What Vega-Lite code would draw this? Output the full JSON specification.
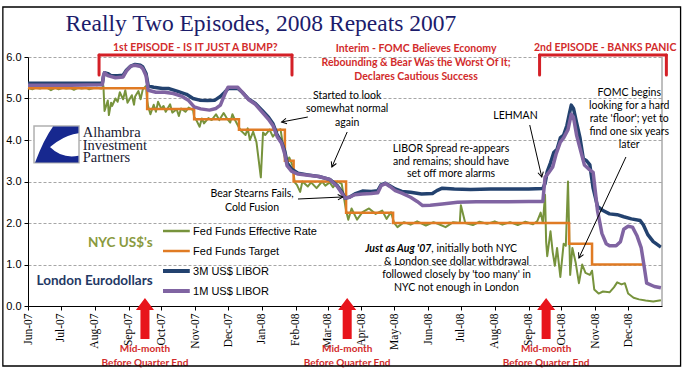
{
"$schema": "https://vega.github.io/schema/vega-lite/v6.json",
"width": 634, "height": 249,
"autosize": {"type": "none"},
"padding": {"left": 28, "top": 57, "right": 28, "bottom": 69},
"background": "white",
"resolve": {"axis": {"x": "independent", "y": "independent"}},
"config": {"view": {"stroke": null}, "font": "Liberation Sans"},
"datasets": {
"eff": [
{"date":"2007-06-01","value":5.25},{"date":"2007-06-05","value":5.22},{"date":"2007-06-08","value":5.26},{"date":"2007-06-12","value":5.24},{"date":"2007-06-15","value":5.27},{"date":"2007-06-19","value":5.25},{"date":"2007-06-22","value":5.2},{"date":"2007-06-26","value":5.26},{"date":"2007-06-29","value":5.22},{"date":"2007-07-03","value":5.26},{"date":"2007-07-06","value":5.24},{"date":"2007-07-10","value":5.25},{"date":"2007-07-13","value":5.21},{"date":"2007-07-17","value":5.26},{"date":"2007-07-20","value":5.24},{"date":"2007-07-24","value":5.26},{"date":"2007-07-27","value":5.22},{"date":"2007-07-31","value":5.25},{"date":"2007-08-03","value":5.26},{"date":"2007-08-07","value":5.24},
{"date":"2007-08-09","value":5.3},{"date":"2007-08-10","value":4.7},{"date":"2007-08-13","value":4.95},{"date":"2007-08-14","value":4.6},{"date":"2007-08-16","value":4.9},{"date":"2007-08-17","value":4.82},{"date":"2007-08-20","value":5.0},{"date":"2007-08-22","value":4.92},{"date":"2007-08-24","value":5.15},{"date":"2007-08-27","value":4.98},{"date":"2007-08-29","value":5.2},{"date":"2007-08-31","value":4.9},{"date":"2007-09-04","value":5.08},{"date":"2007-09-06","value":4.85},{"date":"2007-09-07","value":5.05},{"date":"2007-09-10","value":5.18},{"date":"2007-09-12","value":4.98},{"date":"2007-09-14","value":5.22},{"date":"2007-09-17","value":5.3},
{"date":"2007-09-18","value":4.95},{"date":"2007-09-19","value":4.8},{"date":"2007-09-21","value":4.62},{"date":"2007-09-24","value":4.85},{"date":"2007-09-26","value":4.68},{"date":"2007-09-28","value":4.92},{"date":"2007-10-01","value":4.75},{"date":"2007-10-03","value":4.82},{"date":"2007-10-05","value":4.68},{"date":"2007-10-09","value":4.86},{"date":"2007-10-11","value":4.66},{"date":"2007-10-15","value":4.74},{"date":"2007-10-17","value":4.58},{"date":"2007-10-19","value":4.76},{"date":"2007-10-23","value":4.68},{"date":"2007-10-26","value":4.78},{"date":"2007-10-30","value":4.72},
{"date":"2007-10-31","value":4.55},{"date":"2007-11-02","value":4.48},{"date":"2007-11-05","value":4.32},{"date":"2007-11-07","value":4.52},{"date":"2007-11-09","value":4.4},{"date":"2007-11-13","value":4.53},{"date":"2007-11-16","value":4.48},{"date":"2007-11-20","value":4.62},{"date":"2007-11-23","value":4.48},{"date":"2007-11-27","value":4.65},{"date":"2007-11-30","value":4.52},{"date":"2007-12-03","value":4.42},{"date":"2007-12-05","value":4.62},{"date":"2007-12-07","value":4.5},
{"date":"2007-12-11","value":4.3},{"date":"2007-12-13","value":4.22},{"date":"2007-12-17","value":4.12},{"date":"2007-12-19","value":4.28},{"date":"2007-12-21","value":4.0},{"date":"2007-12-24","value":4.2},{"date":"2007-12-27","value":3.95},{"date":"2007-12-31","value":3.1},{"date":"2008-01-02","value":4.18},{"date":"2008-01-04","value":4.12},{"date":"2008-01-08","value":4.25},{"date":"2008-01-11","value":4.08},{"date":"2008-01-15","value":4.22},{"date":"2008-01-18","value":4.26},
{"date":"2008-01-22","value":3.58},{"date":"2008-01-24","value":3.42},{"date":"2008-01-26","value":3.58},{"date":"2008-01-29","value":3.38},{"date":"2008-01-31","value":2.98},{"date":"2008-02-02","value":2.92},{"date":"2008-02-05","value":2.75},{"date":"2008-02-07","value":3.0},{"date":"2008-02-12","value":2.88},{"date":"2008-02-15","value":2.98},{"date":"2008-02-20","value":2.84},{"date":"2008-02-25","value":3.0},{"date":"2008-02-28","value":2.9},{"date":"2008-03-03","value":2.98},{"date":"2008-03-06","value":2.86},{"date":"2008-03-10","value":3.0},{"date":"2008-03-14","value":2.94},
{"date":"2008-03-18","value":2.3},{"date":"2008-03-20","value":2.08},{"date":"2008-03-23","value":2.35},{"date":"2008-03-28","value":2.08},{"date":"2008-04-02","value":2.26},{"date":"2008-04-08","value":2.35},{"date":"2008-04-14","value":2.22},{"date":"2008-04-20","value":2.3},{"date":"2008-04-24","value":2.1},{"date":"2008-04-28","value":2.26},
{"date":"2008-05-01","value":2.0},{"date":"2008-05-04","value":1.9},{"date":"2008-05-10","value":2.02},{"date":"2008-05-16","value":1.96},{"date":"2008-05-22","value":2.04},{"date":"2008-05-30","value":1.94},{"date":"2008-06-06","value":2.02},{"date":"2008-06-11","value":1.97},{"date":"2008-06-17","value":1.9},{"date":"2008-06-24","value":2.02},{"date":"2008-06-30","value":2.0},{"date":"2008-07-01","value":2.43},{"date":"2008-07-05","value":2.0},{"date":"2008-07-12","value":1.95},{"date":"2008-07-18","value":2.03},{"date":"2008-07-25","value":1.98},{"date":"2008-08-01","value":2.04},{"date":"2008-08-08","value":1.96},{"date":"2008-08-15","value":2.02},{"date":"2008-08-22","value":1.95},{"date":"2008-08-29","value":2.03},{"date":"2008-09-05","value":1.97},{"date":"2008-09-09","value":2.05},
{"date":"2008-09-12","value":2.25},{"date":"2008-09-14","value":2.0},{"date":"2008-09-16","value":2.68},{"date":"2008-09-17","value":1.55},{"date":"2008-09-18","value":1.2},{"date":"2008-09-21","value":1.8},{"date":"2008-09-23","value":1.3},{"date":"2008-09-25","value":0.97},{"date":"2008-09-27","value":1.4},{"date":"2008-09-30","value":0.7},{"date":"2008-10-03","value":1.5},{"date":"2008-10-05","value":1.45},{"date":"2008-10-07","value":3.0},{"date":"2008-10-09","value":0.75},{"date":"2008-10-11","value":1.4},{"date":"2008-10-14","value":1.05},{"date":"2008-10-17","value":0.55},{"date":"2008-10-20","value":1.0},{"date":"2008-10-23","value":0.8},{"date":"2008-10-27","value":0.75},{"date":"2008-10-29","value":0.85},
{"date":"2008-10-31","value":0.4},{"date":"2008-11-04","value":0.3},{"date":"2008-11-08","value":0.35},{"date":"2008-11-14","value":0.33},{"date":"2008-11-18","value":0.45},{"date":"2008-11-21","value":0.57},{"date":"2008-11-25","value":0.52},{"date":"2008-11-28","value":0.55},{"date":"2008-12-01","value":0.3},{"date":"2008-12-06","value":0.2},{"date":"2008-12-11","value":0.16},{"date":"2008-12-17","value":0.13},{"date":"2008-12-24","value":0.11},{"date":"2008-12-31","value":0.14}
],
"tgt": [
{"date":"2007-06-01","value":5.25},{"date":"2007-09-18","value":4.75},{"date":"2007-10-31","value":4.5},{"date":"2007-12-11","value":4.25},{"date":"2008-01-22","value":3.5},{"date":"2008-01-30","value":3.0},{"date":"2008-03-18","value":2.25},{"date":"2008-04-30","value":2.0},{"date":"2008-10-08","value":1.5},{"date":"2008-10-29","value":1.0},{"date":"2008-12-16","value":1.0}
],
"m3": [
{"date":"2007-06-01","value":5.37},{"date":"2007-07-10","value":5.37},{"date":"2007-08-08","value":5.37},{"date":"2007-08-09","value":5.52},{"date":"2007-08-10","value":5.62},{"date":"2007-08-13","value":5.6},{"date":"2007-08-16","value":5.55},{"date":"2007-08-22","value":5.55},{"date":"2007-08-27","value":5.56},{"date":"2007-08-30","value":5.68},{"date":"2007-09-03","value":5.78},{"date":"2007-09-07","value":5.82},{"date":"2007-09-12","value":5.8},{"date":"2007-09-14","value":5.76},{"date":"2007-09-17","value":5.6},{"date":"2007-09-19","value":5.3},{"date":"2007-09-24","value":5.27},{"date":"2007-10-02","value":5.24},{"date":"2007-10-08","value":5.24},{"date":"2007-10-16","value":5.17},{"date":"2007-10-24","value":5.1},{"date":"2007-10-30","value":5.0},{"date":"2007-11-05","value":4.96},{"date":"2007-11-12","value":4.95},{"date":"2007-11-19","value":4.96},{"date":"2007-11-24","value":5.05},{"date":"2007-11-28","value":5.15},{"date":"2007-12-01","value":5.24},{"date":"2007-12-10","value":5.24},{"date":"2007-12-14","value":5.15},{"date":"2007-12-20","value":4.98},{"date":"2007-12-26","value":4.88},
{"date":"2008-01-01","value":4.72},{"date":"2008-01-07","value":4.55},{"date":"2008-01-11","value":4.4},{"date":"2008-01-15","value":4.12},{"date":"2008-01-19","value":3.95},{"date":"2008-01-22","value":3.72},{"date":"2008-01-24","value":3.45},{"date":"2008-01-28","value":3.3},{"date":"2008-02-03","value":3.2},{"date":"2008-02-12","value":3.16},{"date":"2008-02-22","value":3.12},{"date":"2008-03-03","value":3.05},{"date":"2008-03-10","value":2.9},{"date":"2008-03-14","value":2.75},{"date":"2008-03-17","value":2.6},{"date":"2008-03-21","value":2.62},{"date":"2008-03-26","value":2.7},{"date":"2008-04-02","value":2.77},{"date":"2008-04-10","value":2.76},{"date":"2008-04-16","value":2.78},{"date":"2008-04-19","value":2.92},{"date":"2008-04-23","value":2.96},{"date":"2008-04-27","value":2.9},{"date":"2008-05-02","value":2.82},{"date":"2008-05-08","value":2.76},{"date":"2008-05-16","value":2.74},{"date":"2008-05-26","value":2.7},{"date":"2008-06-05","value":2.71},{"date":"2008-06-09","value":2.78},{"date":"2008-06-14","value":2.84},{"date":"2008-06-25","value":2.82},{"date":"2008-07-10","value":2.81},{"date":"2008-07-28","value":2.82},{"date":"2008-08-15","value":2.82},{"date":"2008-09-01","value":2.82},{"date":"2008-09-14","value":2.83},
{"date":"2008-09-16","value":2.95},{"date":"2008-09-18","value":3.24},{"date":"2008-09-21","value":3.45},{"date":"2008-09-24","value":3.7},{"date":"2008-09-27","value":3.78},{"date":"2008-09-30","value":4.05},{"date":"2008-10-03","value":4.12},{"date":"2008-10-06","value":4.35},{"date":"2008-10-08","value":4.6},{"date":"2008-10-10","value":4.84},{"date":"2008-10-12","value":4.76},{"date":"2008-10-15","value":4.4},{"date":"2008-10-18","value":4.05},{"date":"2008-10-21","value":3.55},{"date":"2008-10-24","value":3.5},{"date":"2008-10-27","value":3.4},{"date":"2008-10-30","value":2.84},{"date":"2008-11-03","value":2.4},{"date":"2008-11-08","value":2.3},{"date":"2008-11-14","value":2.22},{"date":"2008-11-21","value":2.2},{"date":"2008-11-27","value":2.15},{"date":"2008-12-04","value":2.1},{"date":"2008-12-12","value":2.06},{"date":"2008-12-15","value":1.95},{"date":"2008-12-19","value":1.72},{"date":"2008-12-24","value":1.55},{"date":"2008-12-31","value":1.42}
],
"m1": [
{"date":"2007-06-01","value":5.32},{"date":"2007-07-10","value":5.32},{"date":"2007-08-08","value":5.33},{"date":"2007-08-09","value":5.55},{"date":"2007-08-10","value":5.62},{"date":"2007-08-13","value":5.55},{"date":"2007-08-20","value":5.5},{"date":"2007-08-27","value":5.52},{"date":"2007-08-30","value":5.66},{"date":"2007-09-03","value":5.78},{"date":"2007-09-07","value":5.8},{"date":"2007-09-12","value":5.77},{"date":"2007-09-14","value":5.72},{"date":"2007-09-17","value":5.55},{"date":"2007-09-19","value":5.2},{"date":"2007-09-26","value":5.15},{"date":"2007-10-04","value":5.15},{"date":"2007-10-12","value":5.12},{"date":"2007-10-20","value":5.05},{"date":"2007-10-26","value":4.95},{"date":"2007-10-31","value":4.8},{"date":"2007-11-06","value":4.75},{"date":"2007-11-14","value":4.72},{"date":"2007-11-20","value":4.76},{"date":"2007-11-24","value":4.84},{"date":"2007-11-28","value":5.1},{"date":"2007-12-01","value":5.27},{"date":"2007-12-10","value":5.27},{"date":"2007-12-14","value":5.15},{"date":"2007-12-20","value":4.97},{"date":"2007-12-26","value":4.86},
{"date":"2008-01-01","value":4.68},{"date":"2008-01-07","value":4.5},{"date":"2008-01-11","value":4.35},{"date":"2008-01-15","value":4.08},{"date":"2008-01-19","value":3.92},{"date":"2008-01-22","value":3.65},{"date":"2008-01-24","value":3.38},{"date":"2008-01-28","value":3.25},{"date":"2008-02-03","value":3.18},{"date":"2008-02-12","value":3.15},{"date":"2008-02-22","value":3.12},{"date":"2008-03-03","value":3.05},{"date":"2008-03-10","value":2.88},{"date":"2008-03-14","value":2.72},{"date":"2008-03-17","value":2.6},{"date":"2008-03-21","value":2.62},{"date":"2008-03-26","value":2.68},{"date":"2008-04-02","value":2.7},{"date":"2008-04-10","value":2.71},{"date":"2008-04-16","value":2.73},{"date":"2008-04-19","value":2.9},{"date":"2008-04-23","value":2.95},{"date":"2008-04-27","value":2.88},{"date":"2008-05-02","value":2.78},{"date":"2008-05-08","value":2.72},{"date":"2008-05-16","value":2.62},{"date":"2008-05-22","value":2.52},{"date":"2008-05-27","value":2.42},{"date":"2008-06-03","value":2.43},{"date":"2008-06-14","value":2.46},{"date":"2008-06-28","value":2.5},{"date":"2008-07-15","value":2.51},{"date":"2008-08-10","value":2.51},{"date":"2008-09-01","value":2.52},{"date":"2008-09-14","value":2.52},
{"date":"2008-09-16","value":3.1},{"date":"2008-09-19","value":3.2},{"date":"2008-09-23","value":3.35},{"date":"2008-09-26","value":3.65},{"date":"2008-09-30","value":3.95},{"date":"2008-10-03","value":4.05},{"date":"2008-10-07","value":4.25},{"date":"2008-10-10","value":4.62},{"date":"2008-10-12","value":4.55},{"date":"2008-10-15","value":4.1},{"date":"2008-10-18","value":3.8},{"date":"2008-10-22","value":3.4},{"date":"2008-10-26","value":3.3},{"date":"2008-10-30","value":3.22},{"date":"2008-11-03","value":2.3},{"date":"2008-11-07","value":1.75},{"date":"2008-11-11","value":1.5},{"date":"2008-11-14","value":1.45},{"date":"2008-11-20","value":1.45},{"date":"2008-11-24","value":1.55},{"date":"2008-11-27","value":1.85},{"date":"2008-12-01","value":1.92},{"date":"2008-12-05","value":1.9},{"date":"2008-12-09","value":1.7},{"date":"2008-12-11","value":1.55},{"date":"2008-12-13","value":1.4},{"date":"2008-12-16","value":0.9},{"date":"2008-12-18","value":0.55},{"date":"2008-12-25","value":0.47},{"date":"2008-12-31","value":0.44}
],
"qe": [{"date":"2007-09-16"},{"date":"2008-03-19"},{"date":"2008-09-17"}]
},
"layer": [
{"data":{"name":"eff"},"mark":{"type":"line","color":"#77933C","strokeWidth":2,"strokeJoin":"round"},
 "encoding":{
  "x":{"field":"date","type":"temporal","scale":{"domain":[{"year":2007,"month":6,"date":1},{"year":2009,"month":1,"date":1}],"nice":false},
   "axis":{"title":null,"orient":"bottom","values":[{"year":2007,"month":6,"date":1},{"year":2007,"month":7,"date":1},{"year":2007,"month":8,"date":1},{"year":2007,"month":9,"date":1},{"year":2007,"month":10,"date":1},{"year":2007,"month":11,"date":1},{"year":2007,"month":12,"date":1},{"year":2008,"month":1,"date":1},{"year":2008,"month":2,"date":1},{"year":2008,"month":3,"date":1},{"year":2008,"month":4,"date":1},{"year":2008,"month":5,"date":1},{"year":2008,"month":6,"date":1},{"year":2008,"month":7,"date":1},{"year":2008,"month":8,"date":1},{"year":2008,"month":9,"date":1},{"year":2008,"month":10,"date":1},{"year":2008,"month":11,"date":1},{"year":2008,"month":12,"date":1}],
    "format":"%b-%y","labelOverlap":false,"labelAngle":270,"labelBound":false,"labelFlush":false,"labelFont":"Liberation Serif","labelFontSize":11.5,"labelColor":"#000","tickColor":"#000","tickSize":4,"domainColor":"#000","labelPadding":3,"grid":false}},
  "y":{"field":"value","type":"quantitative","scale":{"domain":[0,6],"nice":false,"zero":false},
   "axis":{"title":null,"orient":"left","values":[0,1,2,3,4,5,6],"format":".1f","labelOverlap":false,"labelFont":"Liberation Sans","labelFontSize":11,"labelColor":"#000","tickColor":"#000","tickSize":4,"domainColor":"#000","labelPadding":3,"grid":true,"gridColor":"#a6a6a6","gridDash":[3,2],"gridWidth":1}}}},
{"data":{"name":"tgt"},"mark":{"type":"line","color":"#E07B24","strokeWidth":2.5,"interpolate":"step-after"},
 "encoding":{"x":{"field":"date","type":"temporal","axis":null},"y":{"field":"value","type":"quantitative","axis":null}}},
{"data":{"name":"m3"},"mark":{"type":"line","color":"#23426F","strokeWidth":3.5,"strokeJoin":"round"},
 "encoding":{"x":{"field":"date","type":"temporal","axis":null},"y":{"field":"value","type":"quantitative","axis":null}}},
{"data":{"name":"m1"},"mark":{"type":"line","color":"#8064A2","strokeWidth":3.5,"strokeJoin":"round"},
 "encoding":{"x":{"field":"date","type":"temporal","axis":null},"y":{"field":"value","type":"quantitative","axis":null}}},
{"data":{"values":[{}]},"mark":{"type":"rule","color":"#7f7f7f","strokeWidth":1},
 "encoding":{"x":{"datum":{"year":2009,"month":1,"date":1},"type":"temporal","axis":null},"y":{"datum":0,"type":"quantitative","axis":null},"y2":{"datum":6}}},
{"data":{"values":[{}]},"mark":{"type":"rect","fill":"#fff","stroke":"#b0b0b0","strokeWidth":1.5},
 "encoding":{"x":{"datum":{"year":2007,"month":6,"date":6,"hours":12},"type":"temporal","axis":null},"x2":{"datum":{"year":2007,"month":7,"date":17,"hours":16}},"y":{"datum":4.34,"type":"quantitative","axis":null},"y2":{"datum":3.45}}},
{"data":{"values":[{}]},"mark":{"type":"point","shape":"M-0.15,-0.8 L0.98,-0.8 L0.98,-0.5 Q0.05,-0.4 -0.95,0.8 Q-0.55,-0.25 -0.15,-0.8 Z M-0.95,0.8 Q-0.6,0.25 -0.3,0.1 Q0.25,0.65 0.98,0.5 L0.98,0.8 Z","filled":true,"fill":"#17288f","strokeWidth":0,"opacity":1,"size":2025},
 "encoding":{"x":{"datum":{"year":2007,"month":6,"date":27},"type":"temporal","axis":null},"y":{"datum":3.89,"type":"quantitative","axis":null}}},
{"data":{"values":[{}]},"mark":{"type":"text","text":"Alhambra","align":"left","baseline":"alphabetic","font":"Liberation Serif","fontSize":14.5,"color":"#1a1a33"},
 "encoding":{"x":{"datum":{"year":2007,"month":7,"date":21},"type":"temporal","axis":null},"y":{"datum":4.065,"type":"quantitative","axis":null}}},
{"data":{"values":[{}]},"mark":{"type":"text","text":"Investment","align":"left","baseline":"alphabetic","font":"Liberation Serif","fontSize":14.5,"color":"#1a1a33"},
 "encoding":{"x":{"datum":{"year":2007,"month":7,"date":21},"type":"temporal","axis":null},"y":{"datum":3.77,"type":"quantitative","axis":null}}},
{"data":{"values":[{}]},"mark":{"type":"text","text":"Partners","align":"left","baseline":"alphabetic","font":"Liberation Serif","fontSize":14.5,"color":"#1a1a33"},
 "encoding":{"x":{"datum":{"year":2007,"month":7,"date":21},"type":"temporal","axis":null},"y":{"datum":3.475,"type":"quantitative","axis":null}}},
{"data":{"values":[{}]},"mark":{"type":"text","text":"NYC US$'s","align":"right","baseline":"alphabetic","font":"Lato","fontWeight":"bold","fontSize":13.5,"color":"#8A9A3E"},
 "encoding":{"x":{"datum":{"year":2007,"month":9,"date":23},"type":"temporal","axis":null},"y":{"datum":1.42,"type":"quantitative","axis":null}}},
{"data":{"values":[{}]},"mark":{"type":"text","text":"London Eurodollars","align":"right","baseline":"alphabetic","font":"Lato","fontWeight":"bold","fontSize":13.5,"color":"#1F3864"},
 "encoding":{"x":{"datum":{"year":2007,"month":9,"date":23},"type":"temporal","axis":null},"y":{"datum":0.506,"type":"quantitative","axis":null}}},
{"data":{"values":[{}]},"mark":{"type":"rule","color":"#77933C","strokeWidth":2.5},
 "encoding":{"x":{"datum":{"year":2007,"month":10,"date":2,"hours":12},"type":"temporal","axis":null},"x2":{"datum":{"year":2007,"month":10,"date":27}},"y":{"datum":1.807,"type":"quantitative","axis":null}}},
{"data":{"values":[{}]},"mark":{"type":"rule","color":"#E07B24","strokeWidth":2.5},
 "encoding":{"x":{"datum":{"year":2007,"month":10,"date":2,"hours":12},"type":"temporal","axis":null},"x2":{"datum":{"year":2007,"month":10,"date":27}},"y":{"datum":1.325,"type":"quantitative","axis":null}}},
{"data":{"values":[{}]},"mark":{"type":"rule","color":"#23426F","strokeWidth":4},
 "encoding":{"x":{"datum":{"year":2007,"month":10,"date":2,"hours":12},"type":"temporal","axis":null},"x2":{"datum":{"year":2007,"month":10,"date":27}},"y":{"datum":0.843,"type":"quantitative","axis":null}}},
{"data":{"values":[{}]},"mark":{"type":"rule","color":"#8064A2","strokeWidth":4},
 "encoding":{"x":{"datum":{"year":2007,"month":10,"date":2,"hours":12},"type":"temporal","axis":null},"x2":{"datum":{"year":2007,"month":10,"date":27}},"y":{"datum":0.361,"type":"quantitative","axis":null}}},
{"data":{"values":[{}]},"mark":{"type":"text","text":["Fed Funds Effective Rate","Fed Funds Target","3M US$ LIBOR","1M US$ LIBOR"],"align":"left","baseline":"alphabetic","font":"Liberation Sans","fontSize":11,"lineHeight":20,"color":"#000"},
 "encoding":{"x":{"datum":{"year":2007,"month":10,"date":30},"type":"temporal","axis":null},"y":{"datum":1.711,"type":"quantitative","axis":null}}},
{"data":{"values":[{}]},"mark":{"type":"text","text":"Really Two Episodes, 2008 Repeats 2007","align":"center","baseline":"alphabetic","font":"Liberation Serif","fontSize":23.5,"color":"#1C1C6B"},
 "encoding":{"x":{"datum":{"year":2007,"month":12,"date":31},"type":"temporal","axis":null},"y":{"datum":6.63,"type":"quantitative","axis":null}}},
{"data":{"values":[{}]},"mark":{"type":"text","text":"1st EPISODE - IS IT JUST A BUMP?","align":"center","baseline":"alphabetic","font":"Lato","fontWeight":"bold","fontSize":10.5,"color":"#D22B2B"},
 "encoding":{"x":{"datum":{"year":2007,"month":11,"date":1},"type":"temporal","axis":null},"y":{"datum":6.145,"type":"quantitative","axis":null}}},
{"data":{"values":[{}]},"mark":{"type":"text","text":["Interim - FOMC Believes Economy","Rebounding & Bear Was the Worst Of It;","Declares Cautious Success"],"align":"center","baseline":"alphabetic","font":"Lato","fontWeight":"bold","fontSize":10.5,"lineHeight":14,"color":"#D22B2B"},
 "encoding":{"x":{"datum":{"year":2008,"month":5,"date":21},"type":"temporal","axis":null},"y":{"datum":6.12,"type":"quantitative","axis":null}}},
{"data":{"values":[{}]},"mark":{"type":"text","text":"2nd EPISODE - BANKS PANIC","align":"center","baseline":"alphabetic","font":"Lato","fontWeight":"bold","fontSize":10.5,"color":"#D22B2B"},
 "encoding":{"x":{"datum":{"year":2008,"month":11,"date":10},"type":"temporal","axis":null},"y":{"datum":6.145,"type":"quantitative","axis":null}}},
{"data":{"values":[{}]},"mark":{"type":"rule","color":"#D42027","strokeWidth":3,"strokeCap":"round"},
 "encoding":{"x":{"datum":{"year":2007,"month":8,"date":5},"type":"temporal","axis":null},"x2":{"datum":{"year":2008,"month":1,"date":28,"hours":12}},"y":{"datum":6.048,"type":"quantitative","axis":null}}},
{"data":{"values":[{}]},"mark":{"type":"rule","color":"#D42027","strokeWidth":3,"strokeCap":"round"},
 "encoding":{"x":{"datum":{"year":2007,"month":8,"date":5},"type":"temporal","axis":null},"y":{"datum":6.048,"type":"quantitative","axis":null},"y2":{"datum":5.566}}},
{"data":{"values":[{}]},"mark":{"type":"rule","color":"#D42027","strokeWidth":3,"strokeCap":"round"},
 "encoding":{"x":{"datum":{"year":2008,"month":1,"date":28,"hours":12},"type":"temporal","axis":null},"y":{"datum":6.048,"type":"quantitative","axis":null},"y2":{"datum":5.566}}},
{"data":{"values":[{}]},"mark":{"type":"rule","color":"#D42027","strokeWidth":3,"strokeCap":"round"},
 "encoding":{"x":{"datum":{"year":2008,"month":9,"date":11},"type":"temporal","axis":null},"x2":{"datum":{"year":2009,"month":1,"date":5}},"y":{"datum":6.048,"type":"quantitative","axis":null}}},
{"data":{"values":[{}]},"mark":{"type":"rule","color":"#D42027","strokeWidth":3,"strokeCap":"round"},
 "encoding":{"x":{"datum":{"year":2008,"month":9,"date":11},"type":"temporal","axis":null},"y":{"datum":6.048,"type":"quantitative","axis":null},"y2":{"datum":5.566}}},
{"data":{"values":[{}]},"mark":{"type":"rule","color":"#D42027","strokeWidth":3,"strokeCap":"round"},
 "encoding":{"x":{"datum":{"year":2009,"month":1,"date":5},"type":"temporal","axis":null},"y":{"datum":6.048,"type":"quantitative","axis":null},"y2":{"datum":5.566}}},
{"data":{"values":[{}]},"mark":{"type":"text","text":["Started to look","somewhat normal","again"],"align":"center","baseline":"alphabetic","font":"Lato","fontSize":10.5,"lineHeight":13.5,"color":"#000"},
 "encoding":{"x":{"datum":{"year":2008,"month":3,"date":19},"type":"temporal","axis":null},"y":{"datum":4.99,"type":"quantitative","axis":null}}},
{"data":{"values":[{}]},"mark":{"type":"text","text":["Bear Stearns Fails,","Cold Fusion"],"align":"center","baseline":"alphabetic","font":"Lato","fontSize":10.5,"lineHeight":14,"color":"#000"},
 "encoding":{"x":{"datum":{"year":2007,"month":12,"date":23},"type":"temporal","axis":null},"y":{"datum":2.627,"type":"quantitative","axis":null}}},
{"data":{"values":[{}]},"mark":{"type":"text","text":["LIBOR Spread re-appears","and remains; should have","set off more alarms"],"align":"center","baseline":"alphabetic","font":"Lato","fontSize":10.5,"lineHeight":12.7,"color":"#000"},
 "encoding":{"x":{"datum":{"year":2008,"month":6,"date":22},"type":"temporal","axis":null},"y":{"datum":3.711,"type":"quantitative","axis":null}}},
{"data":{"values":[{}]},"mark":{"type":"text","text":"LEHMAN","align":"center","baseline":"alphabetic","font":"Lato","fontSize":10.5,"color":"#000"},
 "encoding":{"x":{"datum":{"year":2008,"month":8,"date":20},"type":"temporal","axis":null},"y":{"datum":4.506,"type":"quantitative","axis":null}}},
{"data":{"values":[{}]},"mark":{"type":"text","text":["FOMC begins","looking for a hard","rate 'floor'; yet to","find one six years","later"],"align":"center","baseline":"alphabetic","font":"Lato","fontSize":10.5,"lineHeight":12.9,"color":"#000"},
 "encoding":{"x":{"datum":{"year":2008,"month":12,"date":2},"type":"temporal","axis":null},"y":{"datum":5.06,"type":"quantitative","axis":null}}},
{"data":{"values":[{}]},"mark":{"type":"text","text":"Just as Aug '07","align":"right","baseline":"alphabetic","font":"Lato","fontSize":10.5,"fontWeight":"bold","fontStyle":"italic","color":"#000"},
 "encoding":{"x":{"datum":{"year":2008,"month":6,"date":4},"type":"temporal","axis":null},"y":{"datum":1.301,"type":"quantitative","axis":null}}},
{"data":{"values":[{}]},"mark":{"type":"text","text":", initially both NYC","align":"left","baseline":"alphabetic","font":"Lato","fontSize":10.5,"color":"#000"},
 "encoding":{"x":{"datum":{"year":2008,"month":6,"date":4},"type":"temporal","axis":null},"y":{"datum":1.301,"type":"quantitative","axis":null}}},
{"data":{"values":[{}]},"mark":{"type":"text","text":["& London see dollar withdrawal","followed closely by 'too many' in","NYC not enough in London"],"align":"center","baseline":"alphabetic","font":"Lato","fontSize":10.5,"lineHeight":13,"color":"#000"},
 "encoding":{"x":{"datum":{"year":2008,"month":6,"date":27},"type":"temporal","axis":null},"y":{"datum":0.988,"type":"quantitative","axis":null}}},
{"data":{"values":[{}]},"mark":{"type":"rule","color":"#000","strokeWidth":1},
 "encoding":{"x":{"datum":{"year":2008,"month":2,"date":12},"type":"temporal","axis":null},"x2":{"datum":{"year":2008,"month":1,"date":19}},"y":{"datum":4.554,"type":"quantitative","axis":null},"y2":{"datum":4.434}}},
{"data":{"values":[{}]},"mark":{"type":"rule","color":"#000","strokeWidth":1},
 "encoding":{"x":{"datum":{"year":2008,"month":3,"date":19},"type":"temporal","axis":null},"x2":{"datum":{"year":2008,"month":3,"date":5}},"y":{"datum":4.193,"type":"quantitative","axis":null},"y2":{"datum":3.349}}},
{"data":{"values":[{}]},"mark":{"type":"rule","color":"#000","strokeWidth":1},
 "encoding":{"x":{"datum":{"year":2008,"month":2,"date":3},"type":"temporal","axis":null},"x2":{"datum":{"year":2008,"month":3,"date":15}},"y":{"datum":2.578,"type":"quantitative","axis":null},"y2":{"datum":2.627}}},
{"data":{"values":[{}]},"mark":{"type":"rule","color":"#000","strokeWidth":1},
 "encoding":{"x":{"datum":{"year":2008,"month":9,"date":2},"type":"temporal","axis":null},"x2":{"datum":{"year":2008,"month":9,"date":13}},"y":{"datum":4.361,"type":"quantitative","axis":null},"y2":{"datum":3.108}}},
{"data":{"values":[{}]},"mark":{"type":"rule","color":"#000","strokeWidth":1},
 "encoding":{"x":{"datum":{"year":2008,"month":11,"date":29},"type":"temporal","axis":null},"x2":{"datum":{"year":2008,"month":10,"date":17}},"y":{"datum":3.59,"type":"quantitative","axis":null},"y2":{"datum":1.157}}},
{"data":{"values":[{}]},"mark":{"type":"point","shape":"M-0.55,1 L0,0 L0.55,1","filled":false,"stroke":"#000","strokeWidth":1,"opacity":1,"size":100,"angle":259},
 "encoding":{"x":{"datum":{"year":2008,"month":1,"date":19},"type":"temporal","axis":null},"y":{"datum":4.434,"type":"quantitative","axis":null}}},
{"data":{"values":[{}]},"mark":{"type":"point","shape":"M-0.55,1 L0,0 L0.55,1","filled":false,"stroke":"#000","strokeWidth":1,"opacity":1,"size":100,"angle":203},
 "encoding":{"x":{"datum":{"year":2008,"month":3,"date":5},"type":"temporal","axis":null},"y":{"datum":3.349,"type":"quantitative","axis":null}}},
{"data":{"values":[{}]},"mark":{"type":"point","shape":"M-0.55,1 L0,0 L0.55,1","filled":false,"stroke":"#000","strokeWidth":1,"opacity":1,"size":100,"angle":87.5},
 "encoding":{"x":{"datum":{"year":2008,"month":3,"date":15},"type":"temporal","axis":null},"y":{"datum":2.627,"type":"quantitative","axis":null}}},
{"data":{"values":[{}]},"mark":{"type":"point","shape":"M-0.55,1 L0,0 L0.55,1","filled":false,"stroke":"#000","strokeWidth":1,"opacity":1,"size":100,"angle":167},
 "encoding":{"x":{"datum":{"year":2008,"month":9,"date":13},"type":"temporal","axis":null},"y":{"datum":3.108,"type":"quantitative","axis":null}}},
{"data":{"values":[{}]},"mark":{"type":"point","shape":"M-0.55,1 L0,0 L0.55,1","filled":false,"stroke":"#000","strokeWidth":1,"opacity":1,"size":100,"angle":205},
 "encoding":{"x":{"datum":{"year":2008,"month":10,"date":17},"type":"temporal","axis":null},"y":{"datum":1.157,"type":"quantitative","axis":null}}},
{"data":{"name":"qe"},"mark":{"type":"point","shape":"M0,-1 L0.44,-0.41 L0.22,-0.41 L0.22,1 L-0.22,1 L-0.22,-0.41 L-0.44,-0.41 Z","filled":true,"fill":"#E8141B","strokeWidth":0,"opacity":1,"size":1681},
 "encoding":{"x":{"field":"date","type":"temporal","axis":null},"y":{"datum":-0.3,"type":"quantitative","axis":null}}},
{"data":{"name":"qe"},"mark":{"type":"text","text":["Mid-month","Before Quarter End"],"align":"center","baseline":"alphabetic","font":"Lato","fontWeight":"bold","fontSize":10,"lineHeight":14,"color":"#D22B2B"},
 "encoding":{"x":{"field":"date","type":"temporal","axis":null},"y":{"datum":-1.108,"type":"quantitative","axis":null}}},
{"data":{"values":[{}]},"mark":{"type":"rect","filled":false,"color":"#000","strokeWidth":1.3},
 "encoding":{"x":{"datum":{"year":2007,"month":5,"date":9},"type":"temporal","axis":null},"x2":{"datum":{"year":2009,"month":1,"date":18}},"y":{"datum":7.205,"type":"quantitative","axis":null},"y2":{"datum":-1.446}}}
]
}
